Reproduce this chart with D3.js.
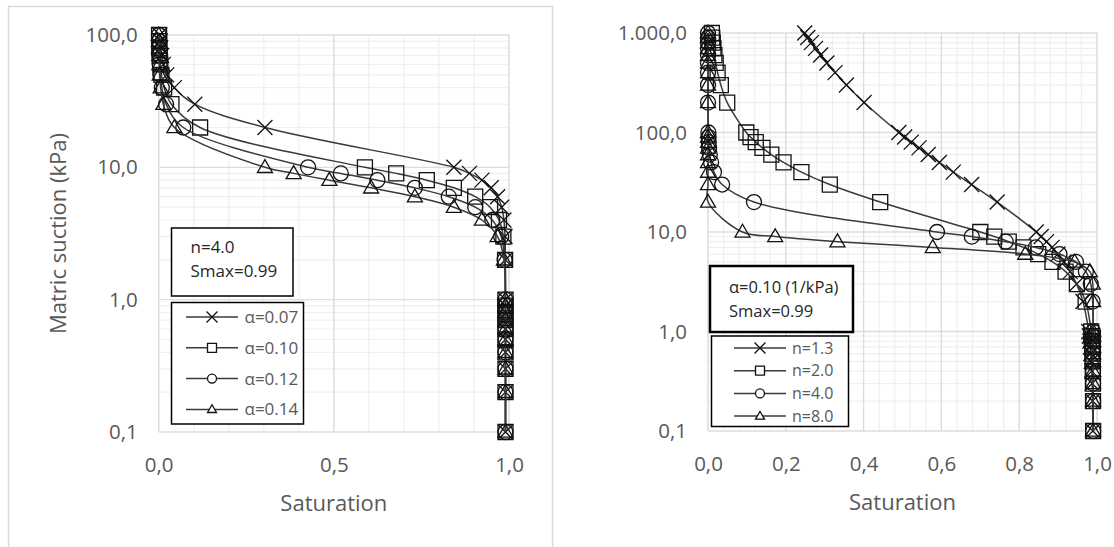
<!DOCTYPE html>
<html>
<head>
<meta charset="utf-8">
<script src="https://cdn.jsdelivr.net/npm/d3@7"></script>
<style>
  body { margin: 0; background: #fff; }
  svg { display: block; }
  text { font-family: "Open Sans", "Noto Sans", sans-serif; }
</style>
</head>
<body>
<svg id="chart" width="1114" height="547"></svg>
<script>
// ---- data: suction (kPa) and degree of saturation ----
const suctionLeft = [0.1, 0.2, 0.3, 0.4, 0.5, 0.6, 0.7, 0.8, 0.9,
  1, 2, 3, 4, 5, 6, 7, 8, 9, 10, 20, 30, 40, 50, 60, 70, 80, 90, 100];

const satAlpha007 = [0.99, 0.99, 0.99, 0.99, 0.99, 0.99, 0.99, 0.99, 0.99,
  0.99, 0.9897, 0.9886, 0.9855, 0.9790, 0.9675, 0.9492, 0.9227, 0.8871,
  0.8425, 0.3033, 0.1030, 0.0446, 0.0230, 0.0133, 0.0084, 0.0056, 0.0040, 0.0029];
const satAlpha010 = [0.99, 0.99, 0.99, 0.99, 0.99, 0.99, 0.99, 0.99, 0.99,
  0.9899, 0.9888, 0.9840, 0.9714, 0.9460, 0.9035, 0.8425, 0.7653, 0.6781,
  0.5887, 0.1182, 0.0363, 0.0154, 0.0079, 0.0046, 0.0029, 0.0019, 0.0014, 0.0010];
const satAlpha012 = [0.99, 0.99, 0.99, 0.99, 0.99, 0.99, 0.99, 0.9899, 0.9899,
  0.9898, 0.9875, 0.9777, 0.9523, 0.9035, 0.8281, 0.7312, 0.6243, 0.5199,
  0.4265, 0.0701, 0.0211, 0.0089, 0.0046, 0.0027, 0.0017, 0.0011, 0.0008, 0.0006];
const satAlpha014 = [0.99, 0.99, 0.99, 0.99, 0.99, 0.99, 0.99, 0.9899, 0.9898,
  0.9897, 0.9855, 0.9675, 0.9227, 0.8425, 0.7312, 0.6064, 0.4872, 0.3852,
  0.3033, 0.0446, 0.0133, 0.0056, 0.0029, 0.0017, 0.0011, 0.0007, 0.0005, 0.0004];

const suctionRight = [0.1, 0.2, 0.3, 0.4, 0.5, 0.6, 0.7, 0.8, 0.9,
  1, 2, 3, 4, 5, 6, 7, 8, 9,
  10, 20, 30, 40, 50, 60, 70, 80, 90,
  100, 200, 300, 400, 500, 600, 700, 800, 900, 1000];

const satN13 = [0.9894, 0.9886, 0.9876, 0.9866, 0.9854, 0.9842, 0.9829, 0.9816, 0.9803,
  0.9789, 0.9638, 0.9476, 0.9312, 0.9151, 0.8995, 0.8846, 0.8703, 0.8566,
  0.8437, 0.7433, 0.6776, 0.6305, 0.5947, 0.5661, 0.5425, 0.5226, 0.5055,
  0.4906, 0.4012, 0.3559, 0.3267, 0.3057, 0.2895, 0.2765, 0.2657, 0.2565, 0.2486];
const satN20 = [0.9900, 0.9898, 0.9896, 0.9892, 0.9888, 0.9882, 0.9876, 0.9869, 0.9860,
  0.9851, 0.9708, 0.9483, 0.9192, 0.8855, 0.8489, 0.8110, 0.7731, 0.7359,
  0.7000, 0.4427, 0.3131, 0.2401, 0.1942, 0.1628, 0.1400, 0.1228, 0.1093,
  0.0985, 0.0494, 0.0330, 0.0247, 0.0198, 0.0165, 0.0141, 0.0124, 0.0110, 0.0099];
const satN40 = [0.99, 0.99, 0.99, 0.99, 0.99, 0.99, 0.99, 0.99, 0.99,
  0.9899, 0.9888, 0.9840, 0.9714, 0.9460, 0.9035, 0.8425, 0.7653, 0.6781,
  0.5887, 0.1182, 0.0363, 0.0154, 0.0079, 0.0046, 0.0029, 0.0019, 0.0014,
  0.0010, 0.0001, 0, 0, 0, 0, 0, 0, 0, 0];
const satN80 = [0.99, 0.99, 0.99, 0.99, 0.99, 0.99, 0.99, 0.99, 0.99,
  0.99, 0.99, 0.9892, 0.9817, 0.9426, 0.8156, 0.5777, 0.3328, 0.1727,
  0.0887, 0.0001, 0, 0, 0, 0, 0, 0, 0,
  0, 0, 0, 0, 0, 0, 0, 0, 0, 0];

const leftLabels = ["\u03b1=0.07", "\u03b1=0.10", "\u03b1=0.12", "\u03b1=0.14"];
const rightLabels = ["n=1.3", "n=2.0", "n=4.0", "n=8.0"];
const markerKinds = ["cross", "square", "circle", "triangle"];

const leftYTicks = [0.1, 1, 10, 100];
const rightYTicks = [0.1, 1, 10, 100, 1000];
const leftXTicks = [0, 0.5, 1];
const rightXTicks = [0, 0.2, 0.4, 0.6, 0.8, 1];

// ---- helpers ----
const svg = d3.select("#chart");
const locale = d3.formatLocale({ decimal: ",", thousands: ".", grouping: [3], currency: ["", ""] });
const fmt = locale.format(",.1f");
const AXIS_GREY = "#595959";

function markerPath(kind, s) {
  const h = s / 2;
  if (kind === "cross") return `M${-h},${-h}L${h},${h}M${-h},${h}L${h},${-h}`;
  if (kind === "square") return `M${-h},${-h}H${h}V${h}H${-h}Z`;
  if (kind === "circle") return `M${h},0A${h},${h} 0 1,1 ${-h},0A${h},${h} 0 1,1 ${h},0Z`;
  // triangle
  const th = s * 0.86;
  return `M0,${-th * 0.6}L${h},${th * 0.4}L${-h},${th * 0.4}Z`;
}

function drawPanel(cfg) {
  const x = d3.scaleLinear().domain([0, 1]).range(cfg.xRange);
  const y = d3.scaleLog().domain(cfg.yDomain).range(cfg.yRange);
  const g = svg.append("g");
  const [x0, x1] = cfg.xRange;
  const [yb, yt] = cfg.yRange;

  // minor gridlines
  const minorX = d3.range(0, 1.0001, cfg.xMinor);
  const minorY = [];
  for (let d = cfg.yDomain[0]; d < cfg.yDomain[1] * 0.999; d *= 10)
    for (let k = 2; k <= 9; k++) minorY.push(d * k);
  g.selectAll(".mx").data(minorX).join("line")
    .attr("x1", d => x(d)).attr("x2", d => x(d)).attr("y1", yb).attr("y2", yt)
    .attr("stroke", "#efefef").attr("stroke-width", 1.2);
  g.selectAll(".my").data(minorY).join("line")
    .attr("y1", d => y(d)).attr("y2", d => y(d)).attr("x1", x0).attr("x2", x1)
    .attr("stroke", "#efefef").attr("stroke-width", 1.2);
  // major gridlines
  g.selectAll(".Mx").data(cfg.xTicks).join("line")
    .attr("x1", d => x(d)).attr("x2", d => x(d)).attr("y1", yb).attr("y2", yt)
    .attr("stroke", "#dcdcdc").attr("stroke-width", 1.3);
  g.selectAll(".My").data(cfg.yTicks).join("line")
    .attr("y1", d => y(d)).attr("y2", d => y(d)).attr("x1", x0).attr("x2", x1)
    .attr("stroke", "#dcdcdc").attr("stroke-width", 1.3);

  // axes (labels only)
  const ya = g.append("g").attr("transform", `translate(${x0},0)`)
    .call(d3.axisLeft(y).tickValues(cfg.yTicks).tickFormat(fmt).tickSize(0).tickPadding(21));
  const xa = g.append("g").attr("transform", `translate(0,${yb})`)
    .call(d3.axisBottom(x).tickValues(cfg.xTicks).tickFormat(fmt).tickSize(0).tickPadding(25));
  [ya, xa].forEach(a => {
    a.select(".domain").remove();
    a.selectAll("text").attr("fill", AXIS_GREY).style("font-size", "20.5px")
      .style("font-family", '"Open Sans", sans-serif');
  });

  g.append("text").attr("x", (x0 + x1) / 2).attr("y", cfg.xTitleY)
    .attr("text-anchor", "middle").attr("fill", AXIS_GREY).style("font-size", "22px")
    .text("Saturation");

  // series
  const line = d3.line().x(d => x(d.s)).y(d => y(d.p)).curve(d3.curveCatmullRom.alpha(0.5));
  cfg.series.forEach((vals, i) => {
    const pts = cfg.suction.map((p, j) => ({ p, s: vals[j] }));
    const sg = g.append("g");
    sg.append("path").datum(pts).attr("d", line)
      .attr("fill", "none").attr("stroke", "#3a3a3a").attr("stroke-width", 1.5);
    sg.selectAll("path.m").data(pts).join("path").attr("class", "m")
      .attr("transform", d => `translate(${x(d.s)},${y(d.p)})`)
      .attr("d", markerPath(markerKinds[i], 15))
      .attr("fill", "none").attr("stroke", "#111").attr("stroke-width", 1.3);
  });

  // parameter box
  const pb = cfg.paramBox;
  g.append("rect").attr("x", pb.x).attr("y", pb.y).attr("width", pb.w).attr("height", pb.h)
    .attr("fill", "#fff").attr("stroke", "#000").attr("stroke-width", pb.sw);
  pb.lines.forEach((t, i) => {
    g.append("text").attr("x", pb.tx).attr("y", pb.ty + i * pb.dy)
      .attr("fill", "#262626").style("font-size", pb.fs + "px").text(t);
  });

  // legend
  const lg = cfg.legend;
  g.append("rect").attr("x", lg.x).attr("y", lg.y).attr("width", lg.w).attr("height", lg.h)
    .attr("fill", "#fff").attr("stroke", "#000").attr("stroke-width", 1.5);
  cfg.labels.forEach((lab, i) => {
    const ry = lg.row0 + i * lg.dy;
    g.append("line").attr("x1", lg.l0).attr("x2", lg.l1).attr("y1", ry).attr("y2", ry)
      .attr("stroke", "#3a3a3a").attr("stroke-width", 1.5);
    g.append("path").attr("transform", `translate(${(lg.l0 + lg.l1) / 2},${ry})`)
      .attr("d", markerPath(markerKinds[i], markerKinds[i] === "cross" ? 11 : 9))
      .attr("fill", "#fff").attr("stroke", "#111").attr("stroke-width", 1.3);
    g.append("text").attr("x", lg.tx).attr("y", ry).attr("dy", "0.35em")
      .attr("fill", AXIS_GREY).style("font-size", lg.fs + "px").text(lab);
  });
  return g;
}

// outer frame of the left chart
svg.append("rect").attr("x", 8.5).attr("y", 6.5).attr("width", 544).attr("height", 560)
  .attr("fill", "none").attr("stroke", "#d9d9d9").attr("stroke-width", 1.5);

drawPanel({
  xRange: [158.7, 509], yDomain: [0.1, 100], yRange: [432, 35],
  xMinor: 0.1, xTicks: leftXTicks, yTicks: leftYTicks, xTitleY: 511,
  suction: suctionLeft, series: [satAlpha007, satAlpha010, satAlpha012, satAlpha014],
  labels: leftLabels,
  paramBox: { x: 171.5, y: 228, w: 121.5, h: 68, sw: 1.5, tx: 190.5, ty: 253, dy: 24, fs: 17,
    lines: ["n=4.0", "Smax=0.99"] },
  legend: { x: 171.5, y: 302.5, w: 132, h: 121.5, row0: 317, dy: 30.8, l0: 186, l1: 238, tx: 244.5, fs: 17 }
});

drawPanel({
  xRange: [708, 1097], yDomain: [0.1, 1000], yRange: [431, 33],
  xMinor: 0.04, xTicks: rightXTicks, yTicks: rightYTicks, xTitleY: 510,
  suction: suctionRight, series: [satN13, satN20, satN40, satN80],
  labels: rightLabels,
  paramBox: { x: 710, y: 266, w: 143, h: 66, sw: 2.5, tx: 729, ty: 293, dy: 23.5, fs: 16.5,
    lines: ["\u03b1=0.10 (1/kPa)", "Smax=0.99"] },
  legend: { x: 711.5, y: 336, w: 137, h: 90.5, row0: 348, dy: 22.7, l0: 734, l1: 786, tx: 792, fs: 16 }
});

// y-axis title of the left chart
svg.append("text").attr("transform", "translate(66,233.5) rotate(-90)")
  .attr("text-anchor", "middle").attr("fill", AXIS_GREY).style("font-size", "22px")
  .text("Matric suction (kPa)");
</script>
</body>
</html>
